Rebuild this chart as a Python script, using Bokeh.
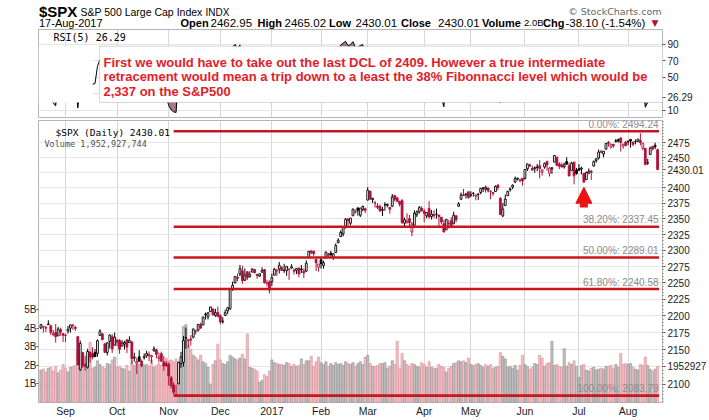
import math
import numpy as np
import pandas as pd
from bokeh.plotting import figure
from bokeh.layouts import column
from bokeh.models import (Range1d, LinearAxis, LinearScale, FixedTicker, BasicTickFormatter,
                          Label, BoxAnnotation, Arrow, NormalHead, ColumnDataSource)
from bokeh.core.properties import value
from bokeh.embed import file_html
from bokeh.resources import INLINE

# ------------------------------------------------------------------ data
start_date, end_date = "2016-08-18", "2017-08-17"
market_holidays = ["2016-09-05", "2016-11-24", "2016-12-26", "2017-01-02", "2017-01-16",
                   "2017-02-20", "2017-04-14", "2017-05-29", "2017-07-04"]

opens = [
    2181.9, 2184.2, 2181.6, 2187.8, 2185.1, 2173.3, 2175.1, 2170.2, 2179.5, 2173.6,
    2171.3, 2177.5, 2181.6, 2185.2, 2182.8, 2169.1, 2120.9, 2146.0, 2127.9, 2124.5, 2146.5, 2144.0, 2145.9, 2144.6, 2170.9, 2173.3, 2158.5, 2146.0, 2161.9, 2168.9, 2156.5,
    2164.3, 2163.4, 2155.2, 2158.2, 2164.2, 2160.4, 2161.4, 2137.7, 2130.3, 2139.7, 2133.0, 2138.3, 2140.8, 2142.5, 2139.4, 2148.5, 2149.7, 2137.0, 2144.1, 2132.2, 2129.8,
    2128.7, 2109.4, 2098.8, 2083.8, 2100.6, 2129.9, 2131.6, 2167.5, 2162.7, 2165.6, 2168.3, 2177.5, 2178.6, 2186.9, 2186.4, 2201.6, 2198.6, 2206.3, 2210.2, 2200.8, 2205.0,
    2200.2, 2191.1, 2200.6, 2207.3, 2210.7, 2241.1, 2249.7, 2258.8, 2263.3, 2268.4, 2253.8, 2266.8, 2259.2, 2266.5, 2270.5, 2262.9, 2260.3, 2266.2, 2270.2, 2249.5, 2251.6,
    2251.6, 2261.6, 2268.2, 2271.1, 2273.6, 2269.0, 2268.6, 2271.1, 2272.7, 2269.1, 2269.1, 2271.9, 2270.0, 2267.8, 2267.9, 2288.9, 2298.6, 2299.0, 2286.0, 2274.0,
    2285.6, 2276.7, 2288.5, 2294.3, 2295.9, 2289.6, 2296.7, 2312.3, 2321.7, 2326.1, 2335.6, 2349.6, 2343.0, 2354.9, 2361.1, 2367.5, 2355.7, 2365.2, 2366.1,
    2380.1, 2394.8, 2380.9, 2375.2, 2370.7, 2369.8, 2363.5, 2372.5, 2371.6, 2368.6, 2370.3, 2387.7, 2383.7, 2378.2, 2379.3, 2343.0, 2345.1, 2350.4, 2329.1, 2339.8, 2356.5, 2361.3, 2366.6,
    2362.3, 2354.8, 2366.6, 2353.8, 2356.6, 2357.2, 2356.0, 2352.7, 2342.0, 2332.6, 2342.5, 2346.8, 2342.7, 2354.7, 2370.3, 2381.5, 2389.0, 2389.7, 2393.7,
    2388.5, 2391.1, 2386.5, 2389.8, 2392.4, 2399.9, 2401.6, 2396.8, 2394.8, 2392.4, 2394.0, 2404.6, 2383.0, 2354.7, 2371.4, 2387.2, 2397.0, 2401.4, 2409.5, 2414.5, 2411.7, 2415.6,
    2415.6, 2431.3, 2437.8, 2431.9, 2432.0, 2434.3, 2436.4, 2425.9, 2434.2, 2443.8, 2424.1, 2431.2, 2442.5, 2450.7, 2439.3, 2437.4, 2434.6, 2443.3, 2436.3, 2428.7, 2442.4, 2429.2,
    2431.4, 2430.8, 2423.7, 2413.5, 2424.5, 2427.4, 2435.8, 2445.0, 2449.2, 2459.5, 2455.9, 2463.9, 2475.6, 2467.4, 2472.0, 2477.9, 2480.0, 2482.8, 2469.1, 2475.9,
    2477.1, 2480.4, 2476.0, 2476.9, 2477.1, 2478.4, 2465.4, 2465.4, 2441.0, 2455.0, 2468.7, 2470.5, 2462.95,
]
highs = [
    2187.0, 2185.0, 2185.2, 2193.4, 2186.7, 2179.0, 2187.9, 2183.5, 2182.3, 2173.8,
    2173.6, 2184.9, 2186.6, 2187.9, 2184.9, 2169.1, 2163.3, 2146.0, 2141.3, 2151.3, 2146.5, 2153.6, 2150.8, 2165.1, 2180.0, 2173.8, 2158.5, 2161.1, 2172.4, 2172.7, 2175.3,
    2164.4, 2165.5, 2163.9, 2162.9, 2165.9, 2169.6, 2161.6, 2145.4, 2138.2, 2149.2, 2135.6, 2144.4, 2148.4, 2147.2, 2142.6, 2154.8, 2151.4, 2145.7, 2147.1, 2140.7, 2133.3,
    2131.5, 2111.8, 2102.6, 2099.1, 2132.0, 2146.9, 2170.1, 2182.3, 2165.9, 2171.4, 2180.8, 2179.2, 2188.1, 2189.9, 2198.7, 2204.8, 2204.7, 2213.4, 2211.1, 2210.5, 2214.1,
    2202.6, 2198.0, 2209.4, 2212.8, 2241.6, 2251.7, 2259.8, 2264.0, 2277.5, 2276.2, 2272.1, 2268.1, 2267.5, 2272.6, 2271.2, 2263.2, 2263.8, 2273.8, 2271.3, 2254.5, 2253.6,
    2263.9, 2273.0, 2271.5, 2282.1, 2275.5, 2279.3, 2275.3, 2271.8, 2278.7, 2272.1, 2272.0, 2274.3, 2277.0, 2271.8, 2284.6, 2299.6, 2301.0, 2299.0, 2286.0, 2279.1,
    2289.1, 2284.0, 2298.3, 2296.2, 2299.4, 2295.9, 2311.1, 2319.2, 2331.6, 2337.6, 2351.3, 2351.3, 2351.2, 2366.7, 2365.1, 2368.3, 2367.3, 2371.5, 2367.8,
    2401.0, 2394.8, 2383.9, 2378.8, 2375.1, 2373.1, 2369.1, 2376.9, 2374.4, 2368.6, 2390.0, 2388.1, 2385.7, 2379.0, 2381.9, 2351.8, 2358.9, 2356.2, 2344.9, 2363.8, 2363.4, 2370.4, 2370.3,
    2365.9, 2360.5, 2378.4, 2364.2, 2363.8, 2366.4, 2356.2, 2352.7, 2348.3, 2349.1, 2348.4, 2352.6, 2361.4, 2356.2, 2377.0, 2392.5, 2398.2, 2392.1, 2393.7,
    2394.5, 2392.9, 2389.8, 2391.4, 2399.3, 2401.4, 2403.9, 2399.7, 2395.7, 2392.4, 2404.1, 2405.8, 2384.9, 2375.7, 2389.1, 2395.5, 2400.9, 2405.6, 2418.7, 2416.7, 2415.3, 2416.0,
    2430.1, 2440.2, 2439.6, 2436.2, 2435.3, 2439.3, 2446.2, 2430.4, 2441.5, 2443.8, 2434.0, 2433.2, 2453.8, 2450.7, 2442.2, 2441.6, 2441.4, 2450.4, 2441.5, 2443.0, 2442.7, 2432.7,
    2439.2, 2434.9, 2424.3, 2426.9, 2432.0, 2429.3, 2445.0, 2449.3, 2463.5, 2462.8, 2460.9, 2473.8, 2477.6, 2472.5, 2473.1, 2481.2, 2481.7, 2484.0, 2473.5, 2478.0,
    2478.5, 2480.4, 2476.3, 2480.4, 2480.9, 2490.9, 2474.4, 2465.4, 2448.1, 2468.2, 2468.7, 2474.9, 2465.02,
]
lows = [
    2180.5, 2175.1, 2175.9, 2186.8, 2171.3, 2169.7, 2160.4, 2170.2, 2170.4, 2161.4,
    2161.1, 2173.6, 2175.1, 2179.1, 2177.5, 2127.8, 2119.1, 2123.6, 2119.6, 2122.4, 2131.2, 2135.9, 2139.2, 2139.6, 2170.9, 2164.0, 2145.0, 2141.6, 2151.8, 2145.2, 2156.5,
    2154.8, 2144.0, 2155.2, 2150.3, 2144.9, 2160.4, 2128.8, 2132.8, 2114.7, 2133.0, 2124.4, 2135.5, 2138.2, 2133.4, 2130.1, 2146.9, 2137.5, 2131.6, 2132.5, 2119.4, 2125.5,
    2097.9, 2094.0, 2085.2, 2083.8, 2100.6, 2123.6, 2125.3, 2151.2, 2152.5, 2156.1, 2166.4, 2172.2, 2176.6, 2180.4, 2186.4, 2194.5, 2194.5, 2206.3, 2200.4, 2198.5, 2198.8,
    2187.4, 2188.4, 2200.0, 2202.5, 2208.9, 2237.6, 2249.2, 2252.4, 2260.2, 2248.4, 2253.8, 2254.2, 2258.2, 2266.2, 2265.2, 2256.1, 2258.8, 2266.2, 2249.1, 2244.6, 2233.6,
    2245.1, 2261.6, 2260.5, 2264.1, 2268.9, 2265.3, 2260.8, 2254.3, 2271.5, 2262.8, 2263.4, 2258.4, 2265.0, 2257.0, 2266.7, 2288.9, 2294.1, 2291.6, 2268.0, 2267.2,
    2271.7, 2271.7, 2287.9, 2288.6, 2290.2, 2285.4, 2296.6, 2311.1, 2321.4, 2322.2, 2334.8, 2338.9, 2339.6, 2354.9, 2358.3, 2355.1, 2352.9, 2361.9, 2359.0,
    2380.1, 2380.2, 2375.4, 2368.0, 2365.5, 2361.0, 2354.5, 2363.0, 2368.5, 2358.2, 2368.9, 2377.8, 2377.6, 2369.7, 2341.9, 2336.5, 2342.1, 2335.7, 2322.3, 2337.6, 2352.9, 2358.6, 2362.6,
    2344.7, 2350.7, 2350.5, 2348.9, 2350.7, 2350.3, 2337.3, 2341.2, 2329.0, 2332.5, 2334.5, 2335.1, 2340.9, 2344.5, 2369.2, 2381.2, 2386.8, 2382.7, 2382.4,
    2384.8, 2385.8, 2379.8, 2380.4, 2389.4, 2393.4, 2392.4, 2392.8, 2381.7, 2387.2, 2393.9, 2396.1, 2356.2, 2352.7, 2370.4, 2386.9, 2393.9, 2398.0, 2408.0, 2412.2, 2409.4, 2403.6,
    2413.5, 2427.7, 2434.3, 2428.1, 2424.8, 2427.4, 2415.7, 2420.0, 2431.3, 2428.3, 2418.5, 2422.9, 2441.8, 2436.6, 2430.7, 2433.3, 2431.6, 2437.6, 2419.4, 2428.0, 2405.7, 2421.6,
    2428.7, 2422.1, 2407.7, 2413.5, 2422.3, 2412.8, 2435.6, 2441.4, 2446.7, 2457.2, 2450.3, 2463.9, 2468.4, 2465.1, 2466.3, 2474.9, 2474.9, 2459.9, 2464.7, 2468.5,
    2471.1, 2466.5, 2468.9, 2472.1, 2475.9, 2470.3, 2462.1, 2437.8, 2437.9, 2455.0, 2461.6, 2463.9, 2430.01,
]
closes = [
    2187.0, 2183.9, 2182.6, 2186.9, 2175.4, 2172.5, 2169.0, 2180.4, 2176.1, 2171.0,
    2170.9, 2180.0, 2186.5, 2186.2, 2181.3, 2127.8, 2159.0, 2127.0, 2125.8, 2147.3, 2139.2, 2139.1, 2139.8, 2163.1, 2177.2, 2164.7, 2146.1, 2159.9, 2171.4, 2151.1, 2168.3,
    2161.2, 2150.5, 2159.7, 2160.8, 2153.7, 2163.7, 2136.7, 2139.2, 2132.6, 2133.0, 2126.5, 2139.6, 2144.3, 2141.3, 2141.2, 2151.3, 2143.2, 2139.4, 2133.0, 2126.4, 2126.2,
    2111.7, 2097.9, 2088.7, 2085.2, 2131.5, 2139.6, 2163.3, 2167.5, 2164.5, 2164.2, 2180.4, 2176.9, 2187.1, 2181.9, 2198.2, 2202.9, 2204.7, 2213.4, 2201.7, 2204.7, 2198.8,
    2191.1, 2192.0, 2204.7, 2212.2, 2241.4, 2246.2, 2259.5, 2257.0, 2271.7, 2253.3, 2262.0, 2258.1, 2262.5, 2270.8, 2265.2, 2261.0, 2263.8, 2268.9, 2249.9, 2249.3, 2238.8,
    2257.8, 2270.8, 2269.0, 2277.0, 2268.9, 2268.9, 2275.3, 2270.4, 2274.6, 2267.9, 2271.9, 2263.7, 2271.3, 2265.2, 2280.1, 2298.4, 2296.7, 2294.7, 2280.9, 2278.9,
    2279.6, 2280.9, 2297.4, 2292.6, 2293.1, 2294.7, 2307.9, 2316.1, 2328.3, 2337.6, 2349.3, 2347.2, 2351.2, 2365.4, 2362.8, 2363.8, 2367.3, 2369.7, 2363.6,
    2396.0, 2381.9, 2383.1, 2375.3, 2368.4, 2363.0, 2364.9, 2372.6, 2373.5, 2365.5, 2385.3, 2381.4, 2378.3, 2373.5, 2344.0, 2348.5, 2346.0, 2344.0, 2341.6, 2358.6, 2361.1, 2368.1, 2362.7,
    2358.8, 2360.2, 2353.0, 2357.5, 2355.5, 2357.2, 2353.8, 2344.9, 2329.0, 2349.0, 2342.2, 2338.2, 2355.8, 2348.7, 2374.2, 2388.6, 2387.5, 2388.8, 2384.2,
    2388.3, 2391.2, 2388.1, 2389.5, 2399.3, 2399.4, 2396.9, 2399.6, 2394.4, 2390.9, 2402.3, 2400.7, 2357.0, 2365.7, 2381.7, 2394.0, 2398.4, 2404.4, 2415.1, 2415.8, 2412.9, 2411.8,
    2430.1, 2439.1, 2436.1, 2429.3, 2433.1, 2433.8, 2431.8, 2429.4, 2440.3, 2437.9, 2432.5, 2433.2, 2453.5, 2437.0, 2435.6, 2434.5, 2438.3, 2439.1, 2419.4, 2440.7, 2419.7, 2423.4,
    2429.0, 2432.5, 2409.8, 2425.2, 2427.4, 2425.5, 2443.3, 2447.8, 2459.3, 2459.1, 2460.6, 2473.8, 2473.5, 2472.5, 2469.9, 2477.1, 2477.8, 2475.4, 2472.1, 2470.3,
    2476.4, 2477.6, 2472.2, 2476.8, 2480.9, 2474.9, 2474.0, 2438.2, 2441.3, 2465.8, 2464.6, 2468.11, 2430.01,
]
volumes_b = [
    1.75, 1.80, 1.65, 1.85, 1.90, 1.70, 1.95, 1.60, 1.75, 2.05,
    1.85, 1.65, 1.90, 1.95, 2.00, 2.85, 2.55, 2.35, 2.10, 2.05, 3.25, 1.85, 1.90, 2.25, 2.05, 1.95, 1.85, 2.10, 2.05, 2.30, 2.45,
    1.90, 1.95, 1.85, 1.80, 2.00, 1.70, 2.25, 2.00, 2.20, 2.05, 1.95, 2.00, 2.05, 1.95, 2.30, 1.90, 2.00, 2.10, 2.00, 2.10, 2.40,
    2.25, 2.30, 2.20, 2.35, 2.20, 2.10, 4.10, 4.20, 3.10, 2.85, 2.55, 2.45, 2.30, 2.55, 2.20, 2.10, 1.90, 1.00, 2.05, 2.25, 3.15,
    2.30, 2.10, 2.05, 2.20, 2.55, 2.45, 2.35, 2.30, 2.40, 2.60, 2.35, 3.70, 1.90, 1.85, 1.80, 1.70, 1.10, 1.20, 1.50, 1.40, 1.70,
    2.30, 2.15, 2.10, 2.05, 2.05, 2.00, 2.15, 2.10, 1.95, 2.05, 1.95, 2.00, 2.35, 2.05, 2.25, 2.25, 2.50, 1.95, 2.20, 2.45,
    2.15, 2.05, 2.20, 1.95, 2.10, 2.00, 2.15, 2.05, 2.10, 2.00, 2.20, 2.10, 2.05, 2.15, 1.95, 2.10, 2.20, 2.05, 2.45,
    2.55, 2.10, 1.95, 1.95, 2.00, 2.10, 2.10, 2.15, 1.85, 1.95, 2.25, 2.05, 3.30, 1.85, 2.65, 2.25, 2.05, 1.95, 2.10, 2.05, 1.95, 1.90, 2.15,
    2.05, 1.90, 2.20, 1.90, 1.85, 1.85, 2.05, 1.95, 1.90, 1.65, 1.85, 1.95, 2.10, 2.15, 2.25, 2.20, 2.25, 2.15, 2.40,
    2.05, 2.00, 2.05, 2.10, 2.00, 1.90, 2.05, 1.95, 2.05, 1.85, 1.90, 1.95, 2.70, 2.50, 2.35, 1.90, 1.95, 1.85, 2.00, 1.75, 2.00, 2.55,
    2.05, 1.95, 1.80, 1.90, 2.10, 2.05, 2.55, 2.40, 1.95, 2.10, 2.15, 3.30, 2.00, 2.05, 1.95, 1.90, 2.90, 1.95, 2.15, 2.05, 2.25, 1.95,
    1.35, 2.00, 2.05, 1.75, 1.70, 1.85, 1.90, 1.75, 1.80, 1.85, 1.80, 1.95, 1.95, 2.00, 1.85, 2.05, 1.90, 2.65, 2.05, 2.10,
    2.05, 2.10, 1.90, 1.80, 1.75, 2.05, 2.00, 2.45, 2.00, 1.80, 1.70, 1.80, 1.952927744,
]

fib_pcts = [0.0, 38.2, 50.0, 61.8, 100.0]
fib_values = [2494.24, 2337.45, 2289.01, 2240.58, 2083.79]
price_grid_ticks = [2100, 2125, 2150, 2175, 2200, 2225, 2250, 2275, 2300, 2325, 2350, 2375, 2400, 2425, 2450, 2475]
price_label_ticks = [2100, 2150, 2175, 2200, 2225, 2250, 2275, 2300, 2325, 2350, 2375, 2400, 2450, 2475]
rsi_grid_ticks = [10, 30, 50, 70, 90]
rsi_label_ticks = [10, 50, 70, 90]
vol_ticks = [1, 2, 3, 4, 5]
vol_tick_labels = ["1B", "2B", "3B", "4B", "5B"]
rsi_last = 26.29
volume_last_text = "1,952,927,744"
volume_last_short = "1952927"
volume_header = "2.0B"
annotation_lines = [
    "First we would have to take out the last DCL of 2409. However a true intermediate",
    "retracement would mean a trip down to a least the 38% Fibonnacci level which would be",
    "2,337 on the S&P500",
]
arrow_date = "2017-07-06"
arrow_tip_price, arrow_tail_price = 2401.0, 2368.0

# ------------------------------------------------------------------ derived
dates = pd.bdate_range(start_date, end_date, freq="C", holidays=market_holidays)
n = len(dates)
opens, highs, lows, closes = map(np.array, (opens, highs, lows, closes))
vols = np.array(volumes_b)
idx = np.arange(n)

month_idx = [i for i in range(1, n) if dates[i].month != dates[i - 1].month]
month_lab = {i: (str(dates[i].year) if dates[i].month == 1 else dates[i].strftime("%b")) for i in month_idx}

prev_close = np.concatenate([[closes[0]], closes[:-1]])
up_day = closes >= prev_close
RED = "#B0103A"
candle_color = np.where(up_day, "#000000", RED)
body_fill = np.where(closes > opens, "#FFFFFF", candle_color)
vol_fill = np.where(up_day, "#BDBDBD", "#F3B8BE")
vol_line = np.where(up_day, "#8E8E8E", "#D8909A")

def wilder_rsi(c, period=5):
    d = np.diff(c)
    g = np.where(d > 0, d, 0.0)
    l = np.where(d < 0, -d, 0.0)
    out = np.full(len(c), np.nan)
    ag, al = g[:period].mean(), l[:period].mean()
    out[period] = 100 - 100 / (1 + ag / al) if al > 0 else 100.0
    for i in range(period + 1, len(c)):
        ag = (ag * (period - 1) + g[i - 1]) / period
        al = (al * (period - 1) + l[i - 1]) / period
        out[i] = 100.0 if al == 0 else 100 - 100 / (1 + ag / al)
    return out

rsi = wilder_rsi(closes)

# ------------------------------------------------------------------ geometry (page pixels)
W = 709
HEADER_H = 29
FRAME_L, FRAME_R = 38, 662
X_LO, X_HI = -1.0, 253.0
RSI_LO, RSI_HI = 1.515, 108.18
P_LO, P_HI = 2074.1, 2512.5
V_HI = 15.22
PRICE_TOP, PRICE_H = 120, 284
K_LOG = (math.log(P_HI) - math.log(P_LO)) / PRICE_H

def xd(px):
    return X_LO + (px - FRAME_L) * (X_HI - X_LO) / (FRAME_R - FRAME_L)

def y1(py):  # page y -> rsi panel data
    return RSI_HI - (py - 29) * (RSI_HI - RSI_LO) / 88.0

def y2(py):  # page y -> price panel data (log)
    return math.exp(math.log(P_HI) - (py - PRICE_TOP) * K_LOG)

def vol_as_price(v):
    py = PRICE_TOP + PRICE_H - PRICE_H * v / V_HI
    return y2(py)

GRID_X = "#D6D6D6"
GRID_Y = "#E6E6E6"
FRAME = "#B5B5B5"
LAB = "Liberation Sans"
MONO = "DejaVu Sans Mono"

def lab(p, text, x, y, size, style="normal", color="#000000", font=LAB, align="left", baseline="middle"):
    p.add_layout(Label(x=x, y=y, text=text, text_font=font, text_font_size=f"{size}px",
                       text_font_style=style, text_color=color, text_align=align,
                       text_baseline=baseline))

def style_axis(a, tick_out=3, standoff=2, size="10px"):
    a.axis_line_color = None
    a.major_tick_out = tick_out
    a.major_tick_in = 0
    a.minor_tick_out = 0
    a.minor_tick_in = 0
    a.major_tick_line_color = "#555555"
    a.major_label_standoff = standoff
    a.major_label_text_font = LAB
    a.major_label_text_font_size = size
    a.major_label_text_color = "#222222"

# ------------------------------------------------------------------ header strip (page-pixel coordinates)
ph = figure(width=W, height=HEADER_H, x_range=Range1d(FRAME_L, FRAME_R), y_range=Range1d(HEADER_H, 0),
            output_backend="svg", toolbar_location=None, x_axis_location=None,
            y_axis_location=None, title=None,
            min_border_left=FRAME_L, min_border_right=W - FRAME_R, min_border_top=0, min_border_bottom=0)
ph.grid.visible = False
ph.outline_line_color = None
ph.background_fill_color = "white"
ph.border_fill_color = "white"

lab(ph, "$SPX", 38.5, 10.5, 15, style="bold")
lab(ph, "S&P 500 Large Cap Index", 80, 11, 10.5)
lab(ph, "INDX", 205, 11.5, 10)
lab(ph, "\u00a9 StockCharts.com", 661, 10.5, 9.5, color="#666666", font="DejaVu Sans", align="right")
chg = closes[-1] - closes[-2]
chg_pct = chg / closes[-2] * 100
ROW2_Y = 22
lab(ph, dates[-1].strftime("%d-%b-%Y"), 38.5, ROW2_Y, 11)
row2 = [
    ("Open", 180, f"{opens[-1]:.2f}", 210),
    ("High", 257, f"{highs[-1]:.2f}", 284),
    ("Low", 328.5, f"{lows[-1]:.2f}", 355),
    ("Close", 400.5, f"{closes[-1]:.2f}", 437.5),
    ("Chg", 542.5, f"{chg:.2f} ({chg_pct:.2f}%)", 565),
]
for key, kx, val, vx in row2:
    lab(ph, key, kx, ROW2_Y, 11, style="bold")
    lab(ph, val, vx, ROW2_Y, 11.5)
lab(ph, "Volume", 481.5, ROW2_Y, 11, style="bold")
lab(ph, volume_header, 523.5, ROW2_Y, 9.5)
lab(ph, "\u25bc", 651, ROW2_Y, 9, color="#B0103A", font="DejaVu Sans")

# ------------------------------------------------------------------ RSI panel
p1 = figure(width=W, height=90, x_range=Range1d(X_LO, X_HI), y_range=Range1d(RSI_LO, RSI_HI),
            output_backend="svg", toolbar_location=None, x_axis_location=None,
            y_axis_location="right", title=None,
            min_border_left=FRAME_L, min_border_right=W - FRAME_R, min_border_top=0, min_border_bottom=2)
p1.background_fill_color = "white"
p1.border_fill_color = "white"
p1.outline_line_color = FRAME
p1.xgrid.ticker = FixedTicker(ticks=month_idx)
p1.xgrid.grid_line_color = GRID_X
p1.ygrid.ticker = FixedTicker(ticks=rsi_grid_ticks)
p1.ygrid.grid_line_color = GRID_Y
ax = p1.yaxis[0]
ax.ticker = FixedTicker(ticks=rsi_label_ticks + [rsi_last])
ax.major_label_overrides = {rsi_last: f"{rsi_last:.2f}"}
style_axis(ax)

rsi_src = ColumnDataSource(dict(x=idx, r=rsi, lo=np.minimum(rsi, 30), hi=np.maximum(rsi, 70)))
p1.varea(x="x", y1="lo", y2=30, source=rsi_src, fill_color="#9C6068", fill_alpha=0.85)
p1.varea(x="x", y1=70, y2="hi", source=rsi_src, fill_color="#9C6068", fill_alpha=0.85)
p1.line(x="x", y="r", source=rsi_src, line_color="#000000", line_width=1)

p1.add_layout(BoxAnnotation(left=X_LO, right=xd(92), top=y1(45.7), bottom=y1(102),
                            fill_color="white", fill_alpha=1, line_alpha=0))
p1.add_layout(BoxAnnotation(left=xd(99), right=xd(662.5), top=y1(45.7), bottom=y1(102),
                            fill_color="white", fill_alpha=1, line_color="#7A7A7A", line_width=1))
for txt, base in zip(annotation_lines, [61.7, 76.4, 90.9]):
    lab(p1, txt, xd(103), y1(base), 13, style="bold", color="#E3202A", baseline="alphabetic")
lab(p1, f"RSI(5) {rsi_last:.2f}", xd(53), y1(37), 10, font=MONO)

# ------------------------------------------------------------------ price / volume panel
p2 = figure(width=W, height=300, x_range=p1.x_range, y_range=Range1d(P_LO, P_HI),
            y_axis_type="log", y_axis_location="right", output_backend="svg",
            toolbar_location=None, title=None,
            min_border_left=FRAME_L, min_border_right=W - FRAME_R, min_border_top=1, min_border_bottom=15)
p2.background_fill_color = "white"
p2.border_fill_color = "white"
p2.outline_line_color = FRAME
p2.extra_y_ranges = {"vol": Range1d(0, V_HI)}
p2.extra_y_scales = {"vol": LinearScale()}

vol_last_pos = vol_as_price(vols[-1])
pax = p2.yaxis[0]
pax.ticker = FixedTicker(ticks=price_label_ticks + [closes[-1], vol_last_pos],
                         minor_ticks=list(range(2075, 2515, 5)))
pax.formatter = BasicTickFormatter(use_scientific=False)
pax.major_label_overrides = {float(closes[-1]): f"{closes[-1]:.2f}", vol_last_pos: volume_last_short}
style_axis(pax)
pax.minor_tick_out = 1
pax.minor_tick_line_color = "#777777"
p2.ygrid.ticker = FixedTicker(ticks=price_grid_ticks)
p2.ygrid.grid_line_color = GRID_Y

xax = p2.xaxis[0]
xax.ticker = FixedTicker(ticks=month_idx)
xax.major_label_overrides = month_lab
style_axis(xax, tick_out=0, standoff=2, size="10.5px")
p2.xgrid.ticker = FixedTicker(ticks=month_idx)
p2.xgrid.grid_line_color = GRID_X

vax = LinearAxis(y_range_name="vol", ticker=FixedTicker(ticks=vol_ticks),
                 major_label_overrides={t: s for t, s in zip(vol_ticks, vol_tick_labels)})
style_axis(vax, tick_out=2, standoff=0)
p2.add_layout(vax, "left")

src = ColumnDataSource(dict(x=idx, o=opens, h=highs, l=lows, c=closes,
                            top=np.maximum(opens, closes), bot=np.minimum(opens, closes),
                            col=candle_color, fill=body_fill, v=vols, vf=vol_fill, vl=vol_line))
p2.vbar(x="x", top="v", bottom=0, width=0.9, source=src, fill_color="vf", line_color="vl",
        line_width=0.6, fill_alpha=0.9, y_range_name="vol")
p2.segment(x0="x", y0="l", x1="x", y1="h", source=src, line_color="col", line_width=1)
p2.vbar(x="x", top="top", bottom="bot", width=0.75, source=src, fill_color="fill",
        line_color="col", line_width=0.9)

low_idx = int(np.argmin(lows))
fib_x0, fib_x1 = low_idx - 1.0, n - 1 + 0.6
FIB_RED = "#C8161E"
p2.segment(x0=[fib_x0] * len(fib_values), x1=[fib_x1] * len(fib_values), y0=fib_values,
           y1=fib_values, line_color=FIB_RED, line_width=2.6)
fib_src = ColumnDataSource(dict(x=[xd(658)] * len(fib_values),
                                y=[v * math.exp(7 * K_LOG) for v in fib_values],
                                t=[f"{p:.2f}%: {v:.2f}" for p, v in zip(fib_pcts, fib_values)]))
p2.text(x="x", y="y", text="t", source=fib_src, text_align="right", text_baseline="middle",
        text_font=value(LAB), text_font_size="10px", text_color="#8C8C8C")

a_idx = int(np.where(dates == pd.Timestamp(arrow_date))[0][0])
ARROW_RED = "#EE1111"
p2.add_layout(Arrow(end=NormalHead(size=16, fill_color=ARROW_RED, line_color=ARROW_RED),
                    x_start=a_idx, y_start=arrow_tail_price, x_end=a_idx, y_end=arrow_tip_price,
                    line_color=ARROW_RED, line_width=8))

lab(p2, f"$SPX (Daily) {closes[-1]:.2f}", xd(55), y2(132), 9.5, font=MONO)
lab(p2, f"Volume {volume_last_text}", xd(44), y2(144), 8.5, font=MONO, color="#505050")

layout = column(ph, p1, p2)
open("out.html", "w").write(file_html(layout, INLINE))
